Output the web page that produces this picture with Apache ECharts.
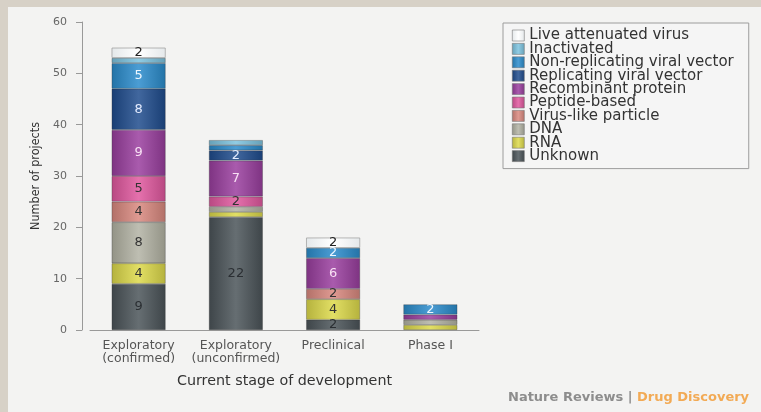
<!DOCTYPE html>
<html>
<head>
<meta charset="utf-8">
<script src="https://cdn.jsdelivr.net/npm/echarts@6/dist/echarts.min.js"></script>
<style>
html,body{margin:0;padding:0;width:761px;height:412px;overflow:hidden;background:#d7d1c7;}
#panel{position:absolute;left:8px;top:7px;right:0;bottom:0;background:#f3f3f2;}
#chart{position:absolute;left:0;top:0;width:761px;height:412px;}
</style>
</head>
<body>
<div id="panel"></div>
<div id="chart"></div>
<script>
const categories = ['Exploratory\n(confirmed)', 'Exploratory\n(unconfirmed)', 'Preclinical', 'Phase I'];
const yTicks = [0, 10, 20, 30, 40, 50, 60];

const unknown        = [9, 22, 2, 0];
const rna            = [4, 1, 4, 1];
const dna            = [8, 1, 0, 1];
const virusLike      = [4, 0, 2, 0];
const peptide        = [5, 2, 0, 0];
const recombinant    = [9, 7, 6, 1];
const replicating    = [8, 2, 0, 0];
const nonReplicating = [5, 1, 2, 2];
const inactivated    = [1, 1, 0, 0];
const liveAttenuated = [2, 0, 2, 0];

const seriesDefs = [
  {name: 'Unknown', data: unknown, color: '#4b5459', label: '#2b2f33'},
  {name: 'RNA', data: rna, color: '#ddd94a', label: '#333'},
  {name: 'DNA', data: dna, color: '#b3b3a4', label: '#333'},
  {name: 'Virus-like particle', data: virusLike, color: '#d9887f', label: '#333'},
  {name: 'Peptide-based', data: peptide, color: '#e0589f', label: '#333'},
  {name: 'Recombinant protein', data: recombinant, color: '#9a3e9e', label: '#f8e0f4'},
  {name: 'Replicating viral vector', data: replicating, color: '#1f4c8d', label: '#e4ecff'},
  {name: 'Non-replicating viral vector', data: nonReplicating, color: '#2b8ccc', label: '#eef7ff'},
  {name: 'Inactivated', data: inactivated, color: '#7cc3df', label: '#333'},
  {name: 'Live attenuated virus', data: liveAttenuated, color: '#ffffff', label: '#222'}
];

function mix(hex, target, t) {
  const n = parseInt(hex.slice(1), 16);
  const r = (n >> 16) & 255, g = (n >> 8) & 255, b = n & 255;
  const f = c => Math.round(c + (target - c) * t);
  return 'rgb(' + f(r) + ',' + f(g) + ',' + f(b) + ')';
}
function grad(hex) {
  return new echarts.graphic.LinearGradient(0, 0, 1, 0, [
    {offset: 0, color: mix(hex, 0, 0.18)},
    {offset: 0.5, color: mix(hex, 255, 0.15)},
    {offset: 1, color: mix(hex, 0, 0.18)}
  ]);
}

const FONT = 'DejaVu Sans';

const series = seriesDefs.map(d => ({
  name: d.name,
  type: 'bar',
  stack: 'total',
  barWidth: 54,
  data: d.data.map(v => v === 0 ? '-' : v),
  itemStyle: {
    color: d.name === 'Live attenuated virus'
      ? new echarts.graphic.LinearGradient(0, 0, 1, 0, [
          {offset: 0, color: '#e4e8ea'}, {offset: 0.5, color: '#ffffff'}, {offset: 1, color: '#e4e8ea'}])
      : grad(d.color),
    borderColor: d.name === 'Live attenuated virus' ? '#9a9a9a' : 'rgba(50,50,50,0.45)',
    borderWidth: 0.7
  },
  label: {
    show: true,
    position: 'inside',
    color: d.label,
    fontFamily: FONT,
    fontSize: 13,
    formatter: p => (p.value >= 2 ? String(p.value) : '')
  },
  emphasis: {disabled: true}
}));

const legendOrder = seriesDefs.map(d => d.name).reverse();

const chart = echarts.init(document.getElementById('chart'), null, {renderer: 'canvas'});
chart.setOption({
  animation: false,
  backgroundColor: 'transparent',
  title: {
    left: 503, top: 386,
    text: '{a|Nature Reviews | }{b|Drug Discovery}',
    textStyle: {
      rich: {
        a: {color: '#8d8d8d', fontFamily: FONT, fontSize: 13, fontWeight: 'bold'},
        b: {color: '#f2aa55', fontFamily: FONT, fontSize: 13, fontWeight: 'bold'}
      }
    }
  },
  legend: {
    orient: 'vertical',
    left: 503, top: 23,
    padding: [5, 15, 5, 9],
    itemWidth: 12, itemHeight: 11,
    icon: 'rect',
    itemGap: -1.6,
    itemTextGap: 11,
    borderColor: '#9c9c9c', borderWidth: 1,
    backgroundColor: '#f5f5f5',
    data: legendOrder,
    itemStyle: {borderColor: '#777', borderWidth: 0.6},
    textStyle: {fontFamily: FONT, fontSize: 15, color: '#333'},
    selectedMode: false
  },
  grid: {left: 90, right: 282, top: 22, bottom: 82},
  xAxis: {
    type: 'category',
    data: categories,
    name: 'Current stage of development',
    nameLocation: 'middle',
    nameGap: 44,
    nameTextStyle: {fontFamily: FONT, fontSize: 14.3, color: '#333'},
    axisLine: {lineStyle: {color: '#999', width: 1}},
    axisTick: {alignWithLabel: true, length: 5, lineStyle: {color: '#999'}},
    axisLabel: {interval: 0, fontFamily: FONT, fontSize: 12.5, color: '#555', lineHeight: 13, margin: 9}
  },
  yAxis: {
    type: 'value',
    min: 0, max: 60, interval: 10,
    offset: 8,
    name: 'Number of projects',
    nameLocation: 'middle',
    nameGap: 40,
    nameTextStyle: {fontFamily: 'Liberation Sans Narrow, DejaVu Sans Condensed, sans-serif', fontSize: 12.5, color: '#333'},
    axisLine: {show: true, lineStyle: {color: '#999', width: 1}},
    axisTick: {show: true, length: 6, lineStyle: {color: '#999'}},
    axisLabel: {fontFamily: FONT, fontSize: 11, color: '#666', margin: 15,
      formatter: v => (yTicks.indexOf(v) >= 0 ? String(v) : '')},
    splitLine: {show: false}
  },
  series: series
});
</script>
</body>
</html>
